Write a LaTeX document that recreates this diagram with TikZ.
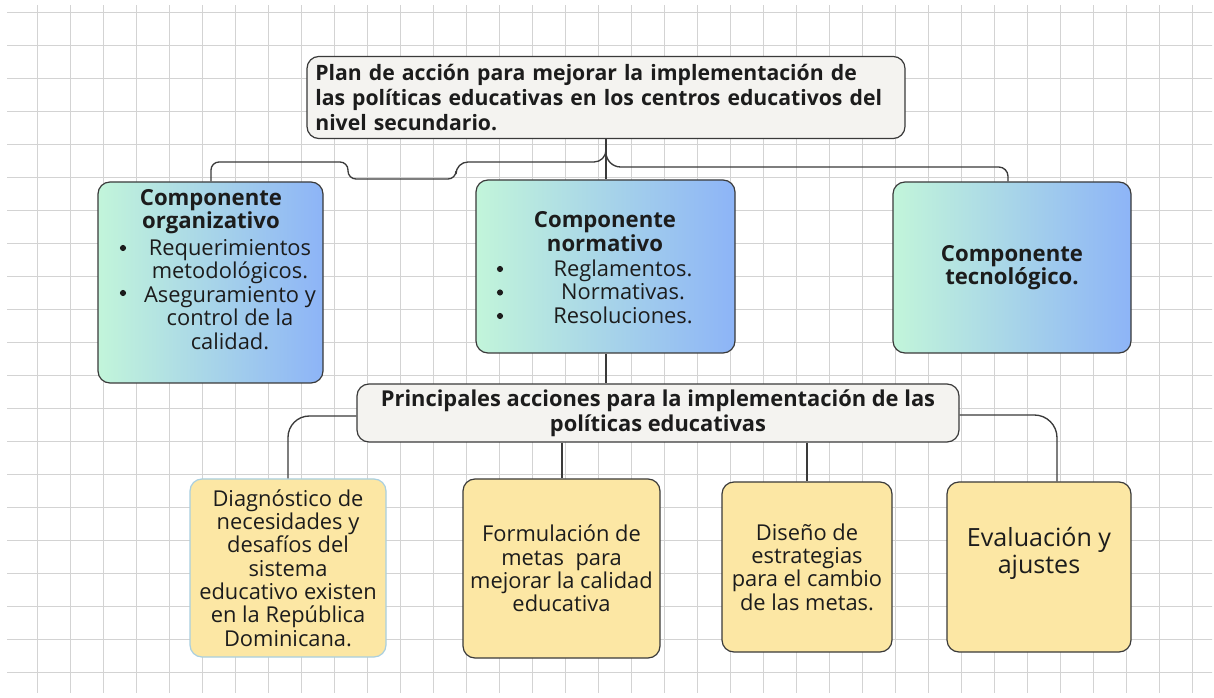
\documentclass[tikz,border=0pt]{standalone}
\usepackage{fontspec}
\setmainfont{Open Sans}
\definecolor{gridc}{HTML}{D3D3D3}
\definecolor{edgec}{HTML}{3A3A3A}
\definecolor{mint}{HTML}{C2F5DA}
\definecolor{bluec}{HTML}{8DB4F7}
\definecolor{titlefill}{HTML}{F4F3F0}
\definecolor{yel}{HTML}{FCE7A4}
\definecolor{lightblue}{HTML}{A9CFE0}
\definecolor{txt}{HTML}{1C1C1C}
\begin{document}
\begin{tikzpicture}[x=0.75pt,y=-0.75pt,
  gridline/.style={draw=gridc,line width=0.6pt},
  greybox/.style={draw=edgec,line width=0.9pt,rounded corners=9pt,fill=titlefill,text=txt},
  compbox/.style={draw=edgec,line width=0.9pt,rounded corners=9pt,left color=mint,right color=bluec,text=txt},
  yelbox/.style={draw=edgec,line width=0.9pt,rounded corners=9pt,fill=yel,text=txt,align=center,
     font=\fontsize{16.4pt}{17.5pt}\selectfont},
  conn/.style={draw=edgec,line width=1pt},
  ttl/.style={text=txt,align=center,font=\fontsize{16.6pt}{17.4pt}\selectfont\bfseries,inner sep=0pt},
  body/.style={text=txt,align=center,font=\fontsize{16.4pt}{17.6pt}\selectfont,inner sep=0pt},
  bul/.style={circle,fill=txt,inner sep=0pt,minimum size=4.6pt}]
\useasboundingbox (0,0) rectangle (1214,698);
\fill[white] (0,0) rectangle (1214,698);
% grid background
\begin{scope}
\clip (7,6) rectangle (1212,692);
\foreach \i in {0,...,36} \draw[gridline] (4+33*\i,0) -- (4+33*\i,698);
\foreach \j in {0,...,21} \draw[gridline] (0,12+33*\j) -- (1214,12+33*\j);
\end{scope}

% boxes
\node[greybox,minimum width=448.5pt,minimum height=60.75pt,text width=436pt,align=left,inner sep=6pt,
  font=\fontsize{15.9pt}{18.6pt}\selectfont\bfseries] (title) at (606,97.5)
  {Plan de acción para mejorar la implementación de\\las políticas educativas en los centros educativos del\\nivel secundario.};

\node[compbox,minimum width=168.75pt,minimum height=150.75pt] (org) at (210.5,282.5) {};
\node[compbox,minimum width=194.25pt,minimum height=129.75pt] (nor) at (605.5,266.5) {};
\node[compbox,minimum width=178.5pt,minimum height=128.25pt,align=center,
  font=\fontsize{16.6pt}{17.4pt}\selectfont\bfseries] (tec) at (1012,267.5) {Componente\\tecnológico.};

\node[greybox,minimum width=451.5pt,minimum height=43.5pt,align=center,inner sep=2pt,
  font=\fontsize{16.4pt}{18.75pt}\selectfont\bfseries] (princ) at (658,413)
  {Principales acciones para la implementación de las\\políticas educativas};

\node[yelbox,draw=lightblue,minimum width=147pt,minimum height=133.5pt] (diag) at (288,568)
  {Diagnóstico de\\necesidades y\\desafíos del\\sistema\\educativo existen\\en la República\\Dominicana.};
\node[yelbox,minimum width=147.75pt,minimum height=134.25pt] (form) at (561.5,568.5)
  {Formulación de\\metas\ \ para\\mejorar la calidad\\educativa};
\node[yelbox,minimum width=127.5pt,minimum height=127.5pt] (dis) at (807,567)
  {Diseño de\\estrategias\\para el cambio\\de las metas.};
\node[yelbox,minimum width=138pt,minimum height=127.5pt] (eva) at (1039,567) {};

% texts inside boxes
\node[ttl] (orgT) at (211,211.5) {Componente\\organizativo};
\node[body] (orgB) at (230,294.5) {Requerimientos\\metodológicos.\\Aseguramiento y\\control de la\\calidad.};
\node[bul] (orgb1) at (123,248) {};
\node[bul] (orgb2) at (123,293) {};

\node[ttl] (norT) at (605,231.5) {Componente\\normativo};
\node[body] (norB) at (623,291.5) {Reglamentos.\\Normativas.\\Resoluciones.};
\node[bul] (norb1) at (500,269) {};
\node[bul] (norb2) at (500,292.5) {};
\node[bul] (norb3) at (500,316) {};

\node[text=txt,align=center,inner sep=0pt,font=\fontsize{18.8pt}{20.3pt}\selectfont] (evaT) at (1039,553)
  {Evaluación y\\ajustes};

% connectors
\draw[conn] (title.south -| 606,0) -- (nor.north -| 606,0);
\draw[conn] (606,146) [rounded corners=9pt] -- (606,162) -- (456,162) [rounded corners=6pt] -- (456,179) -- (348,179) -- (348,162) -- (211,162) -- (org.north -| 211,0);
\draw[conn] (606,146) [rounded corners=11pt] -- (606,167) [rounded corners=7pt] -- (1008,167) -- (tec.north -| 1008,0);
\draw[conn] (nor.south -| 606,0) -- (princ.north -| 606,0);
\draw[conn,rounded corners=16pt] (princ.west |- 0,416) -- (288,416) -- (diag.north -| 288,0);
\draw[conn] (princ.south -| 562,0) -- (form.north -| 562,0);
\draw[conn] (princ.south -| 807,0) -- (dis.north -| 807,0);
\draw[conn,rounded corners=17pt] (princ.east |- 0,415) -- (1057,415) -- (eva.north -| 1057,0);
\end{tikzpicture}
\end{document}
